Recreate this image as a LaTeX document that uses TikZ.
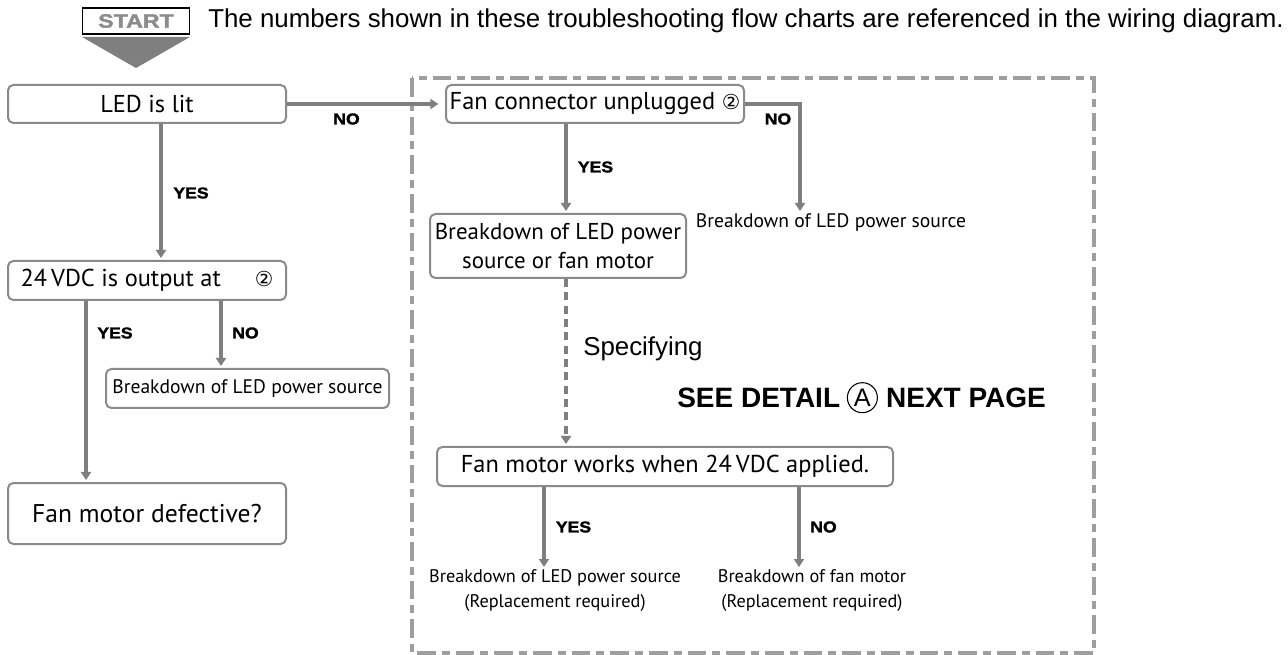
\documentclass[tikz,border=0pt]{standalone}
\usepackage{fontspec}
\setmainfont{PT Sans}
\newfontfamily\arialf{Liberation Sans}
\newfontfamily\blackf[BoldFeatures={FakeBold=1.6}]{Liberation Sans}
\newfontfamily\dejavuf{DejaVu Sans}
\usetikzlibrary{arrows.meta}
\definecolor{arrgray}{HTML}{7F7F7F}
\definecolor{boxgray}{HTML}{8A8A8A}
\definecolor{dashgray}{HTML}{9E9E9E}
\definecolor{startgray}{HTML}{8C8C8C}
\newcommand{\circtwo}{{\dejavuf\fontsize{15.5}{15.5}\selectfont ②}}
\begin{document}
\begin{tikzpicture}[x=0.75pt,y=-0.75pt,
  box/.style={draw=boxgray, line width=1.5pt, rounded corners=4pt, fill=white,
              inner sep=0pt, align=center, minimum width=#1*0.75pt},
  bigtxt/.style={font=\fontsize{18.3}{21}\selectfont},
  arr/.style={draw=arrgray, line width=2.3pt, -{Triangle[length=6pt,width=7.5pt]}, shorten >=1.5pt},
  darr/.style={arr, dash pattern=on 6pt off 4pt},
  lbl/.style={font=\blackf\bfseries\fontsize{11.8}{12}\selectfont, inner sep=0pt, xscale=1.12},
  plain/.style={inner sep=0pt, align=center},
  dashbox/.style={draw=dashgray, line width=2.4pt, dash pattern=on 14pt off 4.5pt on 6pt off 4.5pt}
]
\useasboundingbox (0,0) rectangle (1288,655);

% start marker and header
\node[draw=black, line width=0.9pt, fill=white, minimum width=107*0.75pt, minimum height=26*0.75pt, inner sep=0pt,
      font=\blackf\bfseries\fontsize{14.5}{15}\selectfont, text=startgray] (start) at (136,21) {\scalebox{1.2}[1]{START}};
\fill[arrgray] (82,37) -- (190,37) -- (136,68) -- cycle;
\node[anchor=base west, inner sep=0pt, font=\arialf\fontsize{19.4}{22}\selectfont] (head) at (208,27.5)
  {The numbers shown in these troubleshooting flow charts are referenced in the wiring diagram.};

% dashed frame
\draw[dashbox] (412,78) rectangle (1094,653);

% left column
\node[box=278, minimum height=38*0.75pt, bigtxt] (led) at (147,104) {LED is lit};
\node[box=278, minimum height=39*0.75pt, bigtxt] (vdc) at (147,280.5) {24\,VDC is output at\hspace{1.4em}\circtwo};
\node[box=283, minimum height=39*0.75pt, font=\fontsize{14.7}{17}\selectfont] (bd1) at (247.5,388.5) {Breakdown of LED power source};
\node[box=278, minimum height=61*0.75pt, font=\fontsize{19.2}{23}\selectfont] (fmd) at (147,513.5) {Fan motor defective?};

% right column
\node[box=298, minimum height=38*0.75pt, bigtxt] (fcu) at (595,104) {Fan connector unplugged \circtwo};
\node[plain, font=\fontsize{14.7}{17}\selectfont, anchor=north] (bd3) at (831,213) {Breakdown of LED power source};
\node[box=256, minimum height=64*0.75pt, font=\fontsize{17.2}{21.5}\selectfont] (bd2) at (558,246) {Breakdown of LED power\\source or fan motor};
\node[box=456, minimum height=39*0.75pt, bigtxt] (fmw) at (665,466.5) {Fan motor works when 24\,VDC applied.};
\node[plain, font=\fontsize{13.7}{19}\selectfont, anchor=north] (bd4) at (555,569) {Breakdown of LED power source\\(Replacement required)};
\node[plain, font=\fontsize{13.7}{19}\selectfont, anchor=north] (bd5) at (812,569) {Breakdown of fan motor\\(Replacement required)};

\node[anchor=base west, inner sep=0pt, font=\arialf\fontsize{19.4}{22}\selectfont] (spec) at (583,356) {Specifying};
\node[anchor=base west, inner sep=0pt, font=\arialf\bfseries\fontsize{21}{23}\selectfont] (see1) at (677,408) {SEE DETAIL};
\node[circle, draw=black, line width=0.8pt, minimum size=30*0.75pt, inner sep=0pt, font=\arialf\fontsize{19}{19}\selectfont] (ca) at ([xshift=22*0.75pt, yshift=0.5pt]see1.east) {A};
\node[anchor=west, inner sep=0pt, font=\arialf\bfseries\fontsize{21}{23}\selectfont] (see2) at ([xshift=8*0.75pt]ca.east |- see1.west) {NEXT PAGE};

% helper columns
\coordinate (c161) at (161,0);
\coordinate (c86) at (86,0);
\coordinate (c221) at (221,0);
\coordinate (c566) at (566,0);
\coordinate (c800) at (800,0);
\coordinate (c544) at (544,0);
\coordinate (c799) at (799,0);

% connectors
\draw[arr, shorten >=5pt] (led.east) -- (fcu.west);
\draw[arr] (c161 |- led.south) -- (c161 |- vdc.north);
\draw[arr] (c86 |- vdc.south) -- (c86 |- fmd.north);
\draw[arr] (c221 |- vdc.south) -- (c221 |- bd1.north);
\draw[arr] (fcu.east) -| (c800 |- bd3.north);
\draw[arr] (c566 |- fcu.south) -- (c566 |- bd2.north);
\draw[darr] (c566 |- bd2.south) -- (c566 |- fmw.north);
\draw[arr] (c544 |- fmw.south) -- (c544 |- bd4.north);
\draw[arr] (c799 |- fmw.south) -- (c799 |- bd5.north);

% labels
\node[lbl] (no1) at (346.5,119) {NO};
\node[lbl] (yes1) at (191,193) {YES};
\node[lbl] (yes2) at (115,333) {YES};
\node[lbl] (no2) at (245.5,333) {NO};
\node[lbl] (no3) at (778,119) {NO};
\node[lbl] (yes3) at (595.5,167) {YES};
\node[lbl] (yes4) at (573.5,527) {YES};
\node[lbl] (no4) at (823.5,527) {NO};
\end{tikzpicture}
\end{document}
